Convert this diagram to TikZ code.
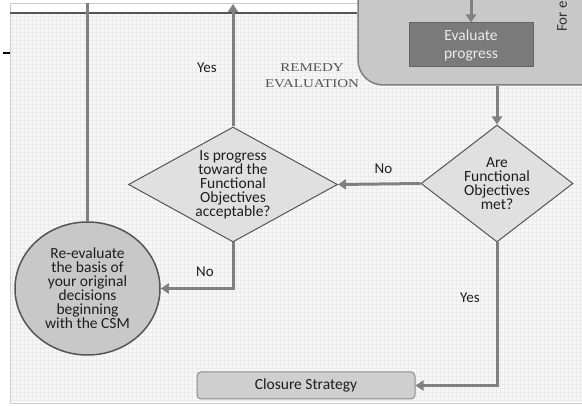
\documentclass[tikz,border=0pt]{standalone}
\usepackage{fontspec}
\setmainfont{Carlito}
\newfontfamily\remedyfont{Liberation Serif}
\usetikzlibrary{shapes.geometric,arrows.meta}
\definecolor{bgfill}{HTML}{F7F7F7}
\definecolor{bggrid}{HTML}{ECECEC}
\definecolor{linegray}{HTML}{808080}
\definecolor{darkline}{HTML}{555555}
\definecolor{boxfill}{HTML}{C8C8C8}
\definecolor{evalfill}{HTML}{7A7A7A}
\definecolor{diafill}{HTML}{E0E0E0}
\definecolor{textdark}{HTML}{1E1E1E}
\tikzset{
  conn/.style={draw=linegray, line width=3pt},
  arr/.style={conn, -{Triangle[length=8pt,width=10pt]}},
  dia/.style={diamond, draw=darkline, fill=diafill, line width=1pt, inner sep=0pt,
    align=center, text=textdark, font=\fontsize{15.5}{14}\selectfont},
  lbl/.style={text=textdark, font=\fontsize{15}{14}\selectfont, inner sep=0pt},
}
\begin{document}
\begin{tikzpicture}[x=1pt,y=-1pt]
\useasboundingbox (0,0) rectangle (582,406);
\clip (0,0) rectangle (582,406);
% background panel
\fill[white] (0,0) rectangle (582,406);
\draw[draw=black!20, fill=white, line width=0.6pt] (10,3) rectangle (590,403);
\fill[bgfill] (10.5,13) rectangle (590,402.5);
\draw[bggrid, line width=0.5pt, step=4pt] (10.5,13) grid (590,402.5);
% stray dash at left
\draw[black, line width=2pt] (3,53) -- (10,53);

% nodes
\node[draw=linegray, fill=boxfill, line width=1.5pt, rounded corners=25pt,
  minimum width=282pt, minimum height=125pt] (forbox) at (499,22.5) {};
\node[draw=darkline!90, fill=evalfill, line width=1pt, minimum width=124pt,
  minimum height=44pt, align=center, text=black!8,
  font=\fontsize{15.5}{18}\selectfont] (eval) at (471,45) {Evaluate\\progress};
\node[rotate=90, anchor=west, inner sep=0pt, text=black!80,
  font=\fontsize{15}{15}\selectfont] (fortext) at (562,32) {For e};

\node[dia, aspect=1.82, minimum width=209pt, minimum height=115pt] (d1) at (233,184.5)
  {Is progress\\toward the\\Functional\\Objectives\\acceptable?};
\node[dia, aspect=1.3, minimum width=152pt, minimum height=117pt] (d2) at (497,183.5)
  {Are\\Functional\\Objectives\\met?};
\node[ellipse, draw=darkline, fill=boxfill, line width=1.5pt, inner sep=0pt,
  minimum width=145pt, minimum height=133pt, align=center, text=textdark,
  font=\fontsize{15.5}{14}\selectfont] (circ) at (87.5,288.5)
  {Re-evaluate\\the basis of\\your original\\decisions\\beginning\\with the CSM};
\node[draw=black!45, fill=black!19, line width=1pt, rounded corners=4pt,
  minimum width=218pt, minimum height=27pt, text=textdark,
  font=\fontsize{15.5}{14}\selectfont] (closure) at (306,385.5) {Closure Strategy};

\node[align=center, text=darkline, inner sep=0pt,
  font=\remedyfont\fontsize{12}{16}\selectfont] (remedy) at (312,76)
  {\scalebox{1.25}[1]{REMEDY}\\\scalebox{1.25}[1]{EVALUATION}};

% coordinates for free ends
\coordinate (evin) at (471,-2);
\coordinate (upend) at (233,4);
\coordinate (lefttop) at (87.5,3);
\coordinate (topleft) at (10,13);

% top line
\draw[darkline, line width=2pt] (topleft) -- (topleft -| forbox.west);

% connectors
\draw[arr] (evin) -- (eval.north);
\draw[arr] (d2.north |- forbox.south) -- (d2.north);
\draw[arr] (d2.west) -- node[lbl, above=9pt, pos=0.45] (no1) {No} (d1.east);
\draw[arr] (d1.north) -- (upend);
\draw[conn] (lefttop) -- (circ.north);
\draw[arr] (d1.south) |- (circ.east);
\draw[arr] (d2.south) |- (closure.east);

% labels
\node[lbl] (yes1) at (207,68) {Yes};
\node[lbl] (no2) at (205,272) {No};
\node[lbl] (yes2) at (470,298) {Yes};
\end{tikzpicture}
\end{document}
